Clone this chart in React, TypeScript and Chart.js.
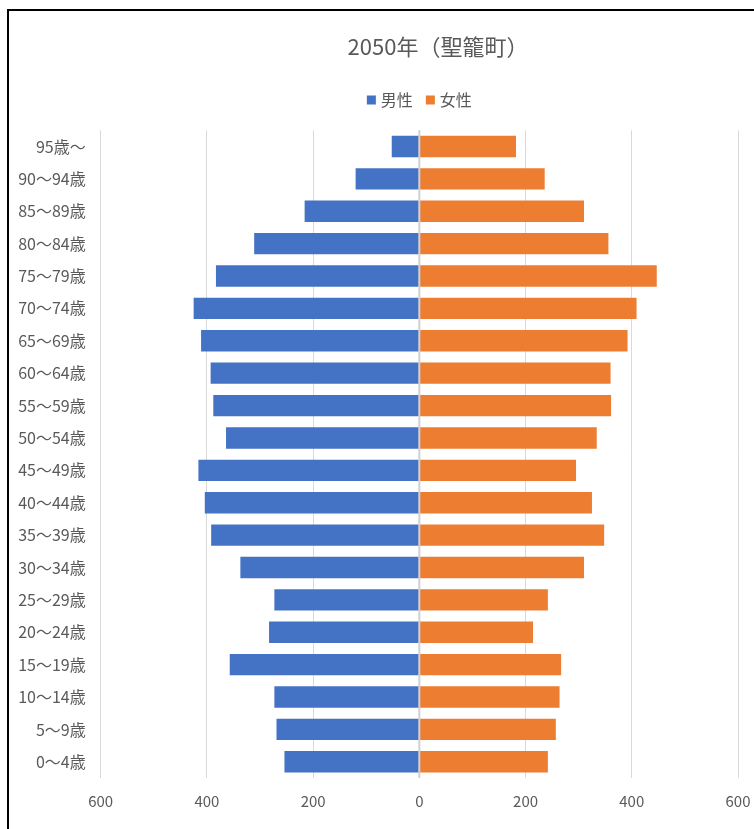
import React, { useEffect, useRef } from "react";
import { Chart, registerables } from "chart.js";

Chart.register(...registerables);

// Age groups, youngest first (the axis is reversed so 95歳～ sits on top)
const ageGroups = [
  "0～4歳", "5～9歳", "10～14歳", "15～19歳", "20～24歳",
  "25～29歳", "30～34歳", "35～39歳", "40～44歳", "45～49歳",
  "50～54歳", "55～59歳", "60～64歳", "65～69歳", "70～74歳",
  "75～79歳", "80～84歳", "85～89歳", "90～94歳", "95歳～",
];

// Projected population, 2050
const malePopulation = [
  254, 269, 273, 357, 283, 273, 337, 392, 404, 416,
  364, 388, 393, 411, 425, 383, 311, 216, 120, 52,
];
const femalePopulation = [
  242, 257, 264, 267, 214, 242, 310, 348, 325, 295,
  334, 361, 360, 392, 409, 447, 356, 310, 236, 182,
];

const xTickValues = [-600, -400, -200, 0, 200, 400, 600];

const chartTitle = "2050年（聖籠町）";
const maleLabel = "男性";
const femaleLabel = "女性";

const FONT = '"Noto Sans CJK JP", "Noto Sans", sans-serif';
const TEXT = "#595959";
const GRID = "#d9d9d9";
const BLUE = "#4472C4";
const ORANGE = "#ED7D31";

// Title centred over the chart frame, legend centred over the plot
const headerPlugin = {
  id: "header",
  afterDraw(chart: any) {
    const { ctx, chartArea } = chart;
    ctx.save();
    ctx.fillStyle = TEXT;
    ctx.textBaseline = "middle";

    ctx.font = `22px ${FONT}`;
    ctx.textAlign = "center";
    ctx.fillText(chartTitle, 438, 47);

    // legend: coloured square + series name per dataset
    ctx.font = `16px ${FONT}`;
    ctx.textAlign = "left";
    const box = 9;
    const boxGap = 5;
    const itemGap = 13;
    const items = chart.data.datasets.map((ds: any) => ({
      label: ds.label as string,
      color: ds.backgroundColor as string,
      w: box + boxGap + ctx.measureText(ds.label).width,
    }));
    const total =
      items.reduce((s: number, it: any) => s + it.w, 0) + itemGap * (items.length - 1);
    let x = (chartArea.left + chartArea.right) / 2 - total / 2;
    const y = 100;
    for (const it of items) {
      ctx.fillStyle = it.color;
      ctx.fillRect(x, y - box / 2, box, box);
      ctx.fillStyle = TEXT;
      ctx.fillText(it.label, x + box + boxGap, y);
      x += it.w + itemGap;
    }
    ctx.restore();
  },
};

// Vertical axis line at zero, drawn over the bars
const zeroLinePlugin = {
  id: "zeroLine",
  afterDatasetsDraw(chart: any) {
    const { ctx, chartArea, scales } = chart;
    const x = scales.x.getPixelForValue(0);
    ctx.save();
    ctx.strokeStyle = "#d0d0d0";
    ctx.lineWidth = 2;
    ctx.beginPath();
    ctx.moveTo(x, chartArea.top);
    ctx.lineTo(x, chartArea.bottom);
    ctx.stroke();
    ctx.restore();
  },
};

export default function App() {
  const canvasRef = useRef<HTMLCanvasElement | null>(null);

  useEffect(() => {
    if (!canvasRef.current) return;
    const chart = new Chart(canvasRef.current, {
      type: "bar",
      data: {
        labels: ageGroups,
        datasets: [
          {
            label: maleLabel,
            data: malePopulation.map((v) => -v),
            backgroundColor: BLUE,
            borderWidth: 0,
            barPercentage: 0.66,
            categoryPercentage: 1,
          },
          {
            label: femaleLabel,
            data: femalePopulation,
            backgroundColor: ORANGE,
            borderWidth: 0,
            barPercentage: 0.66,
            categoryPercentage: 1,
          },
        ],
      },
      options: {
        indexAxis: "y",
        responsive: false,
        animation: false,
        devicePixelRatio: 1,
        layout: { padding: { left: 0, right: 16, top: 130.3, bottom: 0 } },
        plugins: {
          title: { display: false },
          legend: { display: false },
          tooltip: { enabled: false },
        },
        scales: {
          x: {
            type: "linear",
            stacked: true,
            min: -600,
            max: 600,
            afterBuildTicks: (scale: any) => {
              scale.ticks = xTickValues.map((value) => ({ value }));
            },
            afterFit: (scale: any) => {
              scale.height = 51;
              scale.paddingLeft = 0;
              scale.paddingRight = 0;
            },
            ticks: {
              callback: (v: any) => String(Math.abs(Number(v))),
              color: TEXT,
              font: { family: FONT, size: 15 },
              padding: 14,
              maxRotation: 0,
            },
            grid: { color: GRID, lineWidth: 1, drawTicks: false },
            border: { display: false },
          },
          y: {
            type: "category",
            stacked: true,
            reverse: true,
            afterFit: (scale: any) => {
              scale.width = 100.7;
              scale.paddingTop = 0;
              scale.paddingBottom = 0;
            },
            ticks: {
              color: TEXT,
              font: { family: FONT, size: 16 },
              padding: 15,
              autoSkip: false,
            },
            grid: { display: false, drawTicks: false },
            border: { display: false },
          },
        },
      },
      plugins: [headerPlugin, zeroLinePlugin],
    });
    return () => chart.destroy();
  }, []);

  return (
    <div
      style={{
        position: "fixed",
        inset: 0,
        background: "#fff",
        overflow: "hidden",
      }}
    >
      <canvas
        ref={canvasRef}
        width={754}
        height={829}
        style={{ position: "absolute", left: 0, top: 0, width: 754, height: 829 }}
      />
      <div
        style={{
          position: "absolute",
          left: 7,
          top: 9,
          width: 900,
          height: 900,
          borderLeft: "2px solid #000",
          borderTop: "2px solid #000",
          pointerEvents: "none",
        }}
      />
    </div>
  );
}
